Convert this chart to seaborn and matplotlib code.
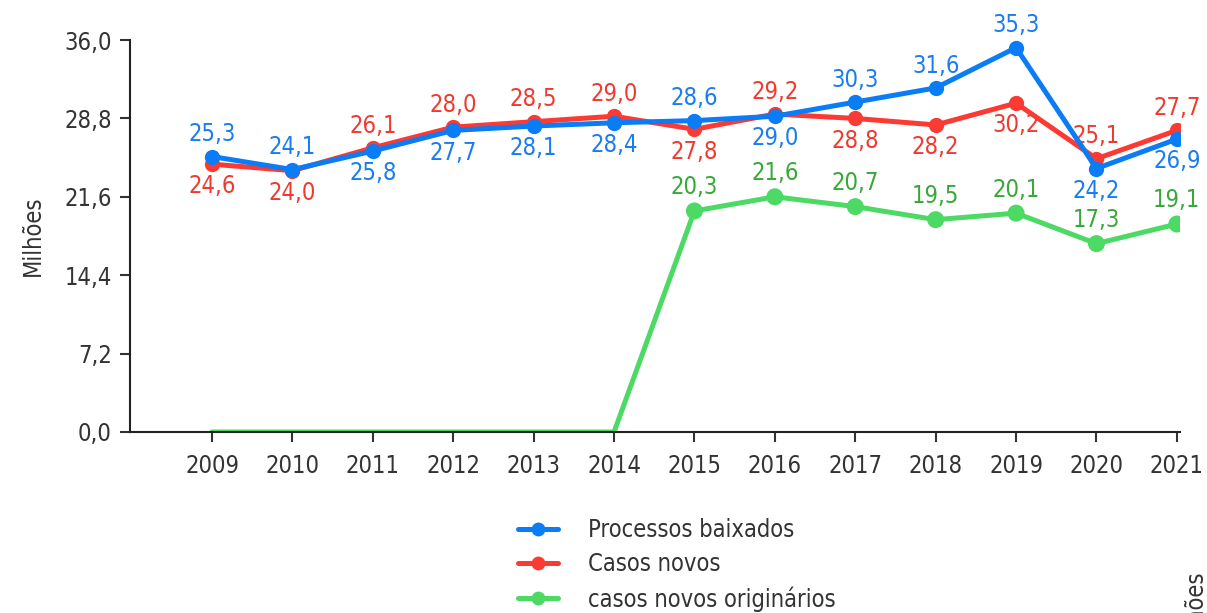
import matplotlib
matplotlib.use("Agg")
import pandas as pd
import seaborn as sns
import matplotlib.pyplot as plt
from matplotlib.lines import Line2D

years = list(range(2009, 2022))
baixados = [25.3, 24.1, 25.8, 27.7, 28.1, 28.4, 28.6, 29.0, 30.3, 31.6, 35.3, 24.2, 26.9]
casos_novos = [24.6, 24.0, 26.1, 28.0, 28.5, 29.0, 27.8, 29.2, 28.8, 28.2, 30.2, 25.1, 27.7]
originarios = [0, 0, 0, 0, 0, 0, 20.3, 21.6, 20.7, 19.5, 20.1, 17.3, 19.1]
y_ticks = [0, 7.2, 14.4, 21.6, 28.8, 36.0]
series_names = ["Processos baixados", "Casos novos", "casos novos originários"]

blue, red, green = "#0a7cf5", "#fb3a33", "#4cd964"
blue_txt, red_txt, green_txt = "#1a7cf0", "#f03a30", "#38a838"

sns.set_style("white")
plt.rcParams["font.family"] = ["DejaVu Sans"]
plt.rcParams["font.stretch"] = "condensed"

df = pd.DataFrame({"ano": years, "baixados": baixados,
                   "novos": casos_novos, "orig": originarios})
orig_pts = df[df["orig"] > 0]

fig = plt.figure(figsize=(12.07, 6.13), dpi=100)
ax = fig.add_axes([0.1077, 0.2953, 0.8700, 0.6394])

# green line is zero before 2015, drawn without markers there
sns.lineplot(data=df, x="ano", y="orig", color=green, linewidth=3.6, ax=ax, zorder=2)
sns.scatterplot(data=orig_pts, x="ano", y="orig", color=green, s=150, edgecolor="none", ax=ax, zorder=3)
sns.lineplot(data=df, x="ano", y="novos", color=red, linewidth=3.6, marker="o",
             markersize=11, markeredgewidth=0, ax=ax, zorder=4)
sns.lineplot(data=df, x="ano", y="baixados", color=blue, linewidth=3.6, marker="o",
             markersize=11, markeredgewidth=0, ax=ax, zorder=5)

def fmt(v):
    return f"{v:.1f}".replace(".", ",")

for x, b, r, g in zip(years, baixados, casos_novos, originarios):
    up = b >= r
    ax.annotate(fmt(b), (x, b), xytext=(0, 16 if up else -16), textcoords="offset points",
                ha="center", va="center", color=blue_txt, fontsize=17)
    ax.annotate(fmt(r), (x, r), xytext=(0, -16 if up else 16), textcoords="offset points",
                ha="center", va="center", color=red_txt, fontsize=17)
    if g > 0:
        ax.annotate(fmt(g), (x, g), xytext=(0, 17), textcoords="offset points",
                    ha="center", va="center", color=green_txt, fontsize=17)

ax.set_xlim(2007.98, 2021.04)
ax.set_ylim(0, 36)
ax.set_xticks(years)
ax.set_xticklabels([str(y) for y in years])
ax.set_yticks(y_ticks)
ax.set_yticklabels([fmt(t) for t in y_ticks])
ax.set_xlabel("")
ax.set_ylabel("Milhões", fontsize=17, color="#333333", labelpad=14)
ax.tick_params(axis="both", labelsize=17, colors="#333333", length=7, width=1.5,
               direction="out", left=True, bottom=True)
ax.tick_params(axis="x", pad=9)
ax.tick_params(axis="y", pad=6)
for side in ["top", "right"]:
    ax.spines[side].set_visible(False)
for side in ["left", "bottom"]:
    ax.spines[side].set_color("#222222")
    ax.spines[side].set_linewidth(1.5)
ax.grid(False)

handles = [Line2D([], [], color=c, linewidth=3.6, marker="o", markersize=10, markeredgewidth=0)
           for c in (blue, red, green)]
fig.legend(handles, series_names, loc="upper left", bbox_to_anchor=(0.421, 0.17),
           frameon=False, fontsize=17, handlelength=1.7, handletextpad=1.3,
           labelspacing=0.42, borderaxespad=0, labelcolor="#333333")

fig.text(0.99, -0.06, "Milhões", rotation=90, fontsize=17, color="#333333",
         ha="center", va="bottom")

fig.savefig("out.png", dpi=100)
